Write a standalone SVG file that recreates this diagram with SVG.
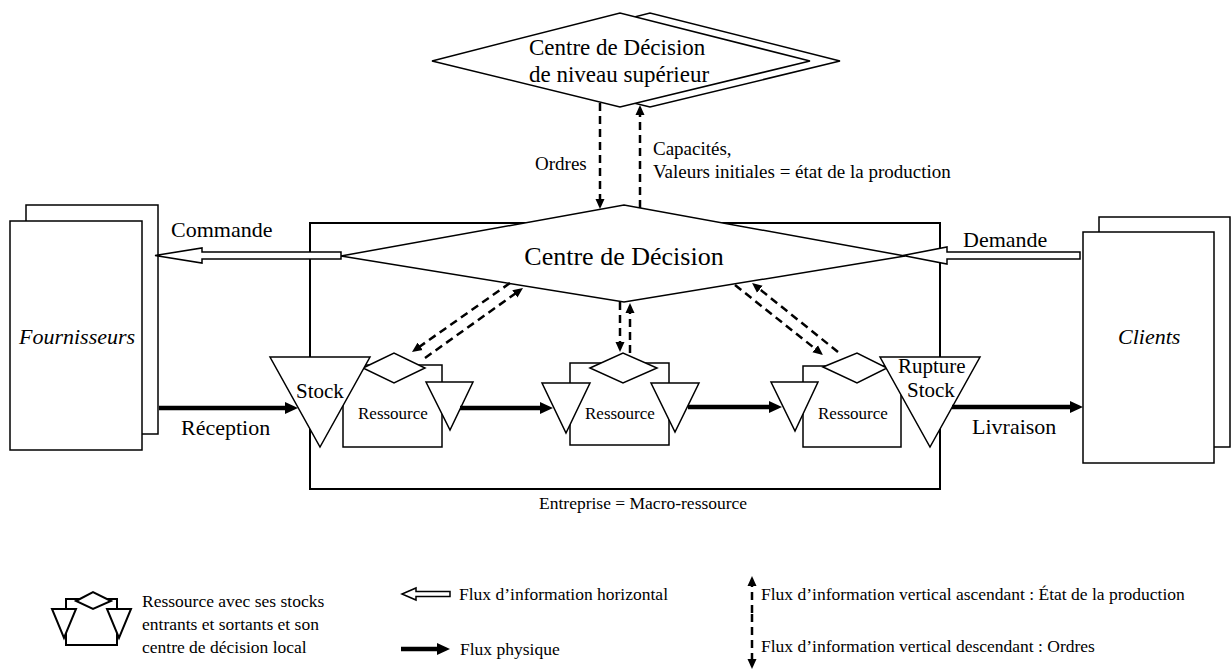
<svg xmlns="http://www.w3.org/2000/svg" width="1232" height="671" viewBox="0 0 1232 671">
<style>
.s{fill:#fff;stroke:#000;stroke-width:1.5}
.n{fill:none;stroke:#000;stroke-width:1.5}
.d{fill:none;stroke:#000;stroke-width:2.5;stroke-dasharray:8 5}
.p{fill:none;stroke:#000;stroke-width:4.5}
text{font-family:"Liberation Serif","Times New Roman",serif;fill:#000}
.big{font-size:22px}
.it{font-size:22px;font-style:italic}
.sm{font-size:17.5px}
.rs{font-size:17px}
.md{font-size:19px}
</style>
<defs>
<marker id="ah" markerUnits="userSpaceOnUse" viewBox="0 0 14 14" markerWidth="14" markerHeight="14" refX="2" refY="7" orient="auto"><path d="M0,1 L13,7 L0,13 z"/></marker>
<marker id="dh" markerUnits="userSpaceOnUse" viewBox="0 0 10 10" markerWidth="10" markerHeight="10" refX="3" refY="5" orient="auto"><path d="M0,0.5 L10,5 L0,9.5 z"/></marker>
</defs>

<g id="fournisseurs">
<rect class="s" x="26" y="205" width="132" height="229"/>
<rect class="s" x="10" y="221" width="132" height="229"/>
<text class="it" x="19" y="344">Fournisseurs</text>
</g>

<g id="clients">
<rect class="s" x="1099" y="217" width="131" height="230"/>
<rect class="s" x="1083" y="232" width="131" height="231"/>
<text class="it" x="1118" y="344">Clients</text>
</g>

<g id="centre-decision-superieur">
<polygon class="s" points="462,61 650,13 840,61 650,107"/>
<polygon class="s" points="432,61 620,13 810,61 620,107"/>
<text x="529" y="55" style="font-size:23px">Centre de Décision</text>
<text x="529" y="82" style="font-size:23px">de niveau supérieur</text>
</g>

<g id="entreprise">
<rect class="n" x="310" y="223" width="630" height="266" style="stroke-width:2"/>
<text class="sm" x="539" y="509">Entreprise = Macro-ressource</text>
</g>

<g id="centre-decision">
<polygon class="s" points="341,256 624,205 905,256 624,302"/>
<text x="624" y="265" text-anchor="middle" style="font-size:26px">Centre de Décision</text>
</g>

<g id="ressource1">
<rect class="s" x="343" y="365" width="99" height="82"/>
<polygon class="s" points="363,368 394,353 425,368 394,383"/>
<polygon class="s" points="426,382 473,382 450,430"/>
<text class="rs" x="358" y="419">Ressource</text>
</g>

<g id="stock">
<polygon class="s" points="270,357 370,357 320,447"/>
<text x="296" y="398" style="font-size:21px">Stock</text>
</g>

<g id="ressource2">
<rect class="s" x="570" y="363" width="99" height="82"/>
<polygon class="s" points="590,368 623,353 657,368 623,383"/>
<polygon class="s" points="542,383 590,383 566,433"/>
<polygon class="s" points="651,383 699,383 675,432"/>
<text class="rs" x="585" y="419">Ressource</text>
</g>

<g id="ressource3">
<rect class="s" x="803" y="366" width="98" height="81"/>
<polygon class="s" points="823,367 857,353 887,368 857,383"/>
<polygon class="s" points="771,382 818,382 795,431"/>
<text class="rs" x="818" y="419">Ressource</text>
</g>

<g id="rupture-stock">
<polygon class="s" points="880,357 980,357 930,447"/>
<text x="898" y="373" style="font-size:21px">Rupture</text>
<text x="907" y="397" style="font-size:21px">Stock</text>
</g>

<g id="connecteurs">
<polygon class="s" points="341,252 202,252 202,248 155,255.5 202,263 202,259 341,259"/>
<text class="big" x="171" y="237">Commande</text>
<polygon class="s" points="1080,252 947,252 947,247 903,255.5 947,264 947,259 1080,259"/>
<text class="big" x="963" y="247">Demande</text>

<line class="p" x1="159" y1="408" x2="287" y2="408" marker-end="url(#ah)"/>
<text class="big" x="181" y="435">Réception</text>
<line class="p" x1="460" y1="408" x2="542" y2="408" marker-end="url(#ah)"/>
<line class="p" x1="688" y1="407" x2="771" y2="407" marker-end="url(#ah)"/>
<line class="p" x1="952" y1="407" x2="1072" y2="407" marker-end="url(#ah)"/>
<text class="big" x="972" y="434">Livraison</text>

<line class="d" x1="600" y1="103" x2="600" y2="202" marker-end="url(#dh)"/>
<line class="d" x1="640" y1="208" x2="640" y2="112" marker-end="url(#dh)"/>
<text class="md" x="535" y="170">Ordres</text>
<text class="md" x="653" y="155">Capacités,</text>
<text class="md" x="653" y="178">Valeurs initiales = état de la production</text>

<line class="d" x1="510" y1="283" x2="417.7" y2="348" marker-end="url(#dh)"/>
<line class="d" x1="425" y1="358" x2="517.3" y2="292.1" marker-end="url(#dh)"/>
<line class="d" x1="620" y1="302" x2="620" y2="345" marker-end="url(#dh)"/>
<line class="d" x1="630" y1="353" x2="630" y2="310" marker-end="url(#dh)"/>
<line class="d" x1="735" y1="285" x2="817.5" y2="350.6" marker-end="url(#dh)"/>
<line class="d" x1="838" y1="352" x2="757.5" y2="287.4" marker-end="url(#dh)"/>
</g>

<g id="legende">
<g id="legende-ressource">
<rect class="n" x="66" y="599" width="51" height="46" style="stroke-width:2"/>
<polygon class="s" points="76,601 93,592 111,601 93,609" style="stroke-width:2"/>
<polygon class="s" points="52,609 76,609 64,638" style="stroke-width:2"/>
<polygon class="s" points="107,609 131,609 119,638" style="stroke-width:2"/>
<text class="sm" x="142" y="607">Ressource avec ses stocks</text>
<text class="sm" x="142" y="630">entrants et sortants et son</text>
<text class="sm" x="142" y="653">centre de décision local</text>
</g>
<g id="legende-fleches">
<polygon class="s" points="450,591.5 416,591.5 416,588 402,594 416,600 416,596.5 450,596.5"/>
<text class="sm" x="459" y="600">Flux d’information horizontal</text>
<line class="p" x1="401" y1="649" x2="439" y2="649" marker-end="url(#ah)"/>
<text class="sm" x="460" y="655">Flux physique</text>
<line class="d" x1="752" y1="613" x2="752" y2="583" marker-end="url(#dh)"/>
<text class="sm" x="761" y="600">Flux d’information vertical ascendant : État de la production</text>
<line class="d" x1="752" y1="614" x2="752" y2="662" marker-end="url(#dh)"/>
<text class="sm" x="761" y="652">Flux d’information vertical descendant : Ordres</text>
</g>
</g>
</svg>
